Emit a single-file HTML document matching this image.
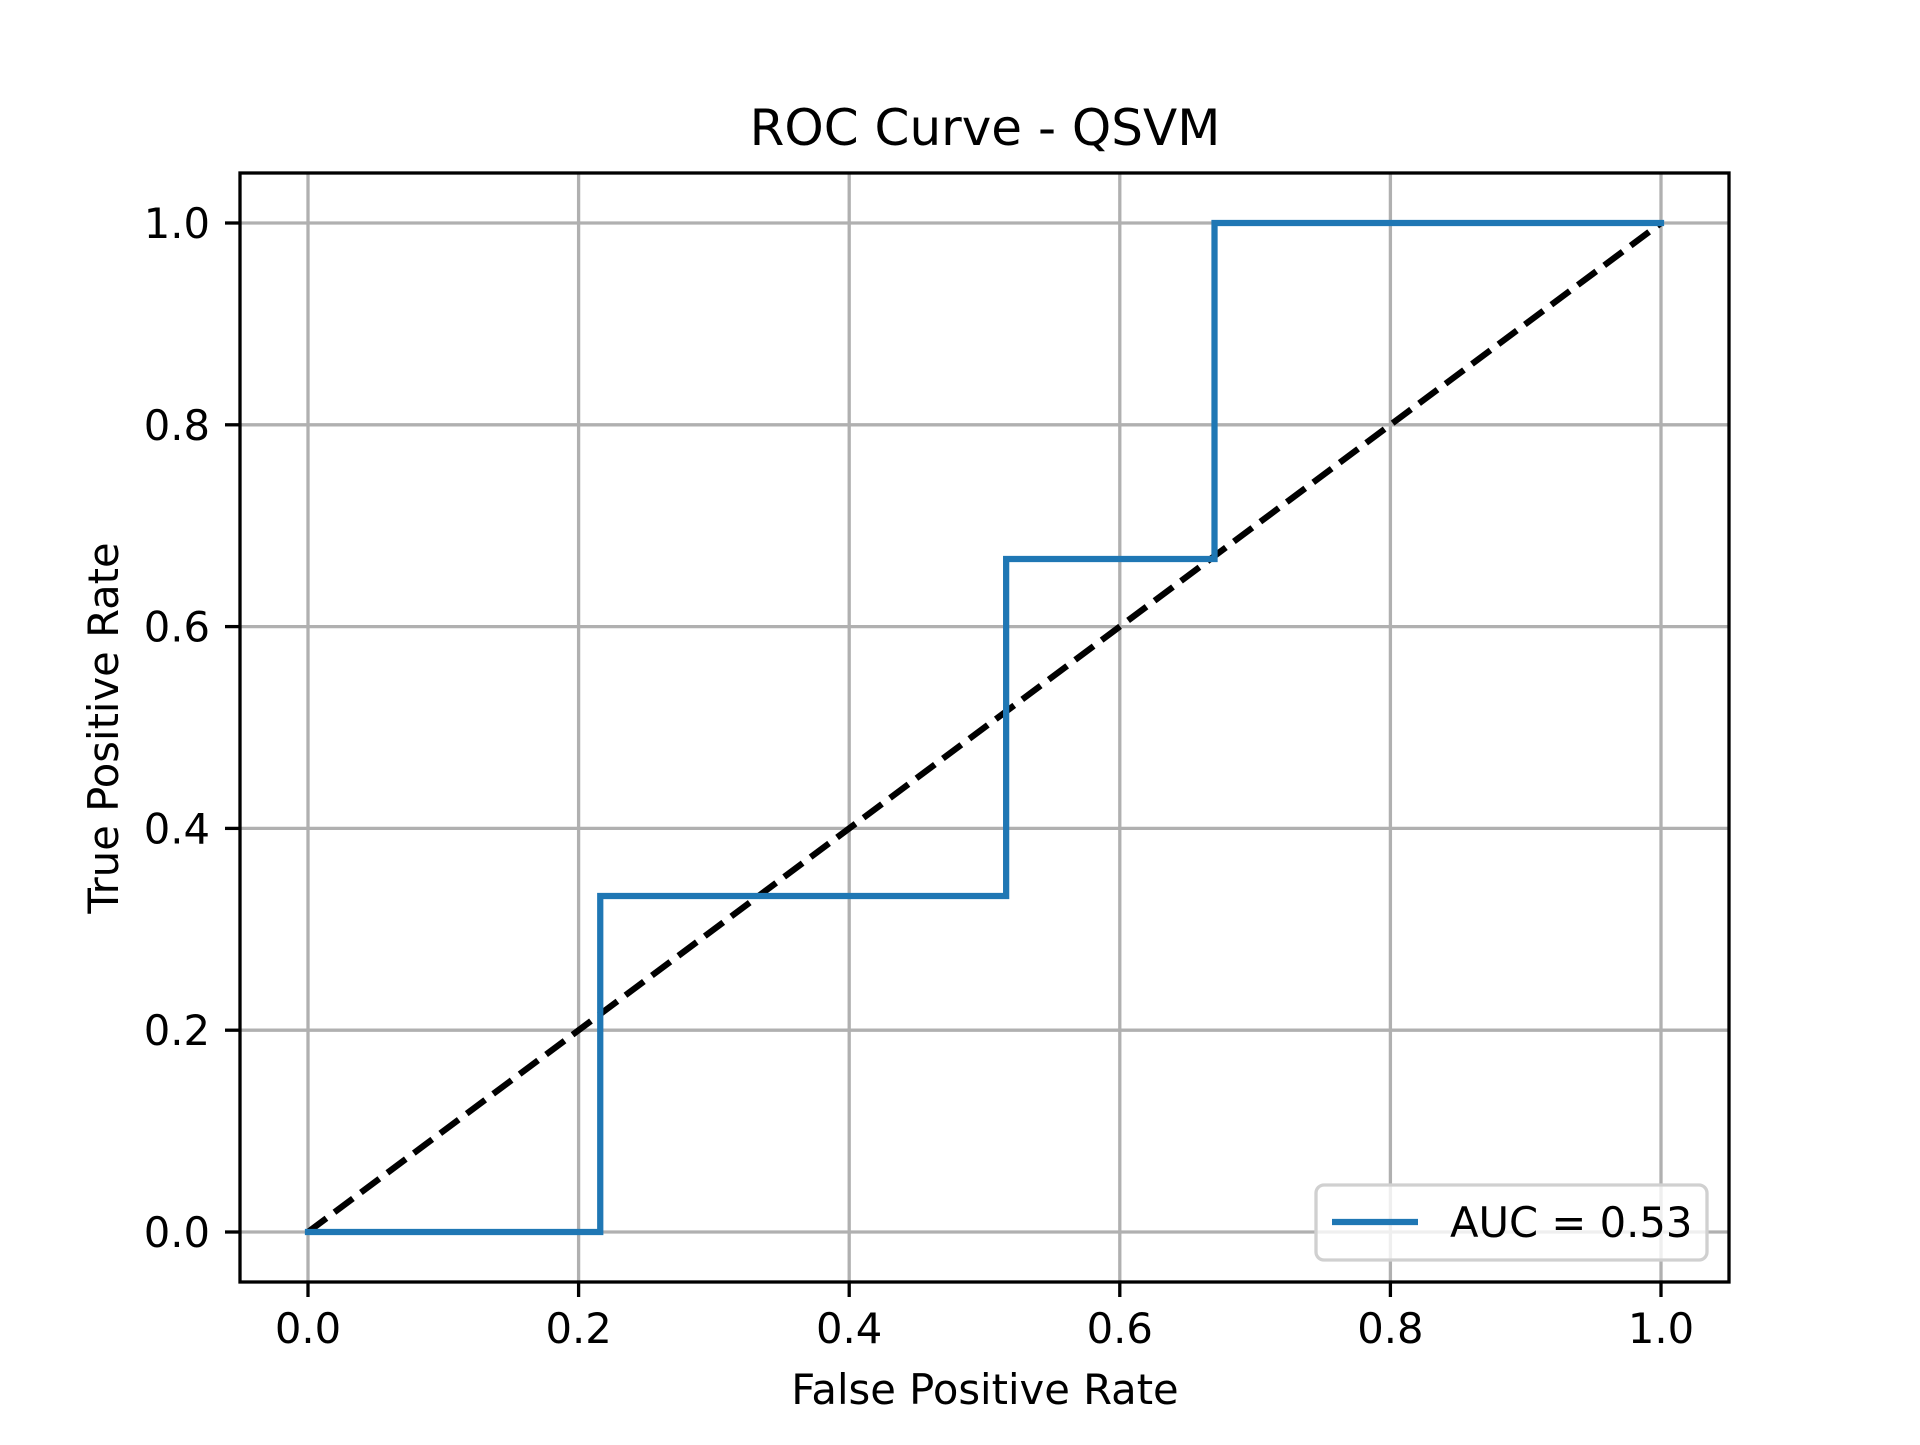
<!DOCTYPE html>
<html><head><meta charset="utf-8"><style>
body{margin:0;background:#fff}
svg text{font-family:"DejaVu Sans","Liberation Sans",sans-serif;fill:#000}
</style></head><body>
<svg width="1920" height="1440" viewBox="0 0 1920 1440">
<rect width="1920" height="1440" fill="#fff"/>
<g id="grid"></g>
<g id="ticks"></g>
<line id="diag" stroke="#000" stroke-width="6.25" stroke-dasharray="23,10"/>
<polyline id="roc" fill="none" stroke="#1f77b4" stroke-width="6.25" stroke-linejoin="miter" stroke-linecap="square"/>
<rect x="240" y="173" width="1489" height="1109" fill="none" stroke="#000" stroke-width="3.3"/>
<text x="985" y="145" font-size="50" text-anchor="middle">ROC Curve - QSVM</text>
<text x="985" y="1404" font-size="41.7" text-anchor="middle">False Positive Rate</text>
<text transform="translate(118,728) rotate(-90)" font-size="41.7" text-anchor="middle">True Positive Rate</text>
<g>
<rect x="1316" y="1185" width="391" height="75" rx="8" fill="#fff" fill-opacity="0.8" stroke="#d0d0d0" stroke-width="3.3"/>
<line x1="1332" y1="1222" x2="1418" y2="1222" stroke="#1f77b4" stroke-width="6.25"/>
<text id="legtext" x="1450" y="1237" font-size="41.7"></text>
</g>
</svg>
<script>
const fpr=[0,0.216,0.216,0.516,0.516,0.67,0.67,1];
const tpr=[0,0,0.333,0.333,0.667,0.667,1,1];
const ticks=[0,0.2,0.4,0.6,0.8,1.0];
const tickLabels=["0.0","0.2","0.4","0.6","0.8","1.0"];
const auc="0.53";
const X=v=>308+v*(1661-308);
const Y=v=>1232-v*(1232-223);
const NS="http://www.w3.org/2000/svg";
const grid=document.getElementById('grid'),tk=document.getElementById('ticks');
function mk(tag,attrs,parent){const e=document.createElementNS(NS,tag);for(const k in attrs)e.setAttribute(k,attrs[k]);parent.appendChild(e);return e;}
ticks.forEach((t,i)=>{
 const gx=mk('line',{x1:X(t),x2:X(t),y1:173,y2:1282,stroke:'#b0b0b0','stroke-width':3.3},grid);
 
 
 const gy=mk('line',{x1:240,x2:1729,y1:Y(t),y2:Y(t),stroke:'#b0b0b0','stroke-width':3.3},grid);
 
 
 const mx=mk('line',{x1:X(t),x2:X(t),y1:1282,y2:1297,stroke:'#000','stroke-width':3.3},tk);
 
 
 const my=mk('line',{x1:225,x2:240,y1:Y(t),y2:Y(t),stroke:'#000','stroke-width':3.3},tk);
 
 
 const lx=mk('text',{x:X(t),y:1343,'font-size':41.7,'text-anchor':'middle'},tk);
 lx.textContent=tickLabels[i];
 
 
 const ly=mk('text',{x:210,y:Y(t)+15,'font-size':41.7,'text-anchor':'end'},tk);
 ly.textContent=tickLabels[i];
 
 
});
document.getElementById('roc').setAttribute('points',fpr.map((f,i)=>X(f)+','+Y(tpr[i])).join(' '));
const d=document.getElementById('diag');
d.setAttribute('x1',X(0));d.setAttribute('y1',Y(0));d.setAttribute('x2',X(1));d.setAttribute('y2',Y(1));
document.getElementById('legtext').textContent='AUC = '+auc;
</script>
</body></html>
